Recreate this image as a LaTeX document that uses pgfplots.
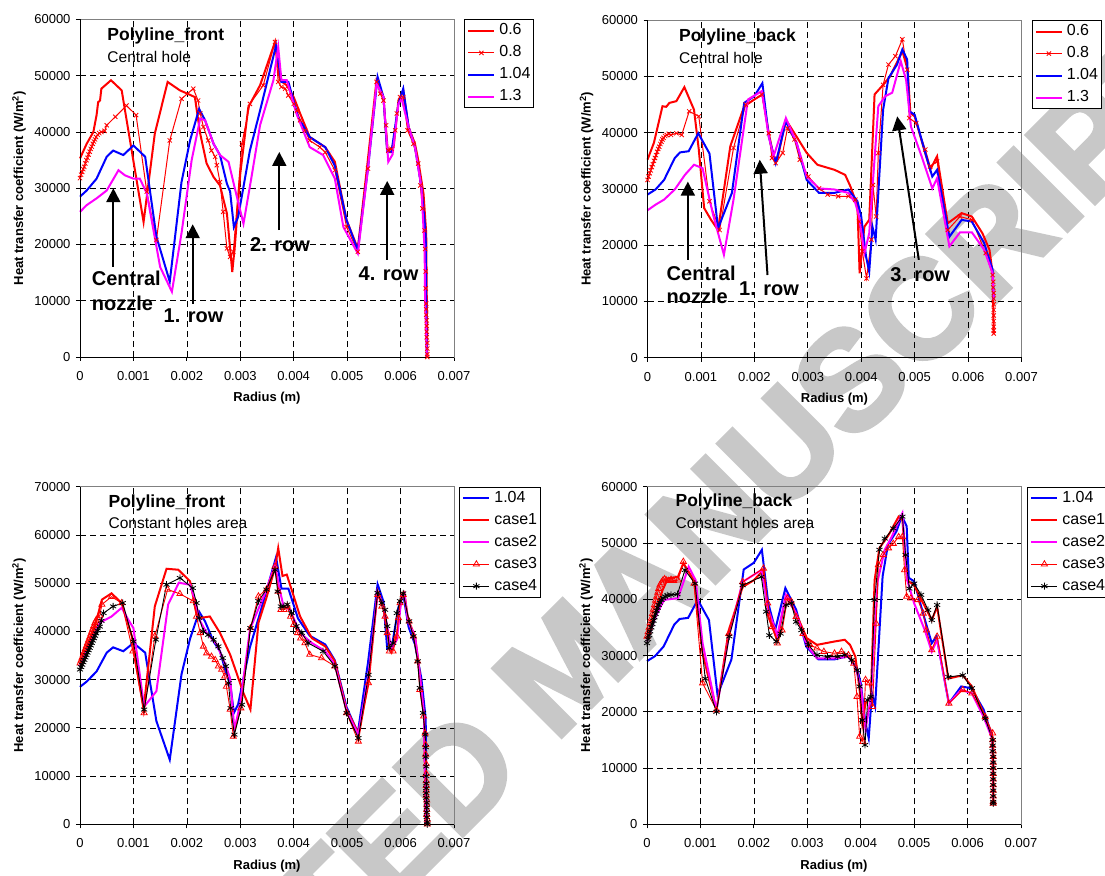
\documentclass[border=0pt]{standalone}
\usepackage{pgfplots}
\pgfplotsset{compat=1.18}
\usepackage{pgfplotstable}
\usepackage{fontspec}
\setmainfont{Liberation Sans}
\newfontfamily\wmfont{Liberation Sans}[BoldFeatures={FakeBold=3}]
\usetikzlibrary{arrows.meta}
\definecolor{frame}{RGB}{128,128,128}
\definecolor{wm}{RGB}{200,200,200}
\definecolor{cred}{RGB}{255,0,0}
\definecolor{cblue}{RGB}{0,0,255}
\definecolor{cmag}{RGB}{255,0,255}

\pgfplotstableread{
x y
0 28500
0.000125 29600
0.00031 31700
0.0005 35600
0.00062 36700
0.00081 35900
0.001 37600
0.00122 35600
0.00143 21400
0.00168 13400
0.0019 31100
0.00206 38500
0.00223 44100
0.00234 42100
0.0025 37900
0.00262 35900
0.00275 30800
0.00281 29400
0.00288 23100
0.00296 24900
0.00318 36700
0.00337 43800
0.00367 55400
0.00377 48900
0.0039 48900
0.00408 42700
0.0043 39100
0.00459 37300
0.00477 34000
0.00499 24300
0.0052 19000
0.00539 33500
0.00557 49800
0.00568 46200
0.00575 36400
0.00583 36400
0.00596 45000
0.00605 47700
0.00615 40900
0.00627 37300
0.00639 30200
0.00647 22000
0.00649 0
}\tabfront

\pgfplotstableread{
x y
0 29000
0.00015 29900
0.00031 31600
0.00051 35500
0.00061 36500
0.00077 36700
0.00095 39900
0.00116 36300
0.00132 23000
0.00158 29300
0.00181 45300
0.002 46500
0.00215 48800
0.00227 39300
0.0024 34600
0.00259 42000
0.00279 38200
0.00298 31600
0.00321 29300
0.0035 29300
0.00376 29900
0.00393 27800
0.004 25100
0.00409 18000
0.00415 15300
0.00421 23300
0.00427 21000
0.00441 44100
0.00451 49700
0.00467 52100
0.00477 54800
0.00486 53000
0.0049 43800
0.005 43200
0.0052 36400
0.00533 32200
0.00542 33400
0.00565 21500
0.00588 24500
0.00607 24200
0.0063 20400
0.00646 15600
0.00648 10300
}\tabback

\tikzset{
  ttl/.style={anchor=west, font=\bfseries\fontsize{17.5}{20}\selectfont},
  sttl/.style={anchor=west, font=\fontsize{15.5}{18}\selectfont},
  ann/.style={anchor=west, font=\bfseries\fontsize{20}{22}\selectfont},
  arr/.style={line width=2pt, -{Triangle[length=14pt, width=14pt]}},
}

\pgfplotsset{
  panel/.style={
    scale only axis, width=374pt, height=337.5pt,
    xmin=0, xmax=0.007, ymin=0,
    scaled x ticks=false, scaled y ticks=false,
    xtick={0,0.001,0.002,0.003,0.004,0.005,0.006,0.007},
    xticklabels={0,0.001,0.002,0.003,0.004,0.005,0.006,0.007},
    axis line style={draw=frame, line width=0.8pt},
    tick align=outside, xtick pos=left, ytick pos=left,
    major tick length=4pt, tick style={black, line width=0.8pt},
    grid=major, grid style={black, line width=0.7pt, dash pattern=on 6pt off 4pt},
    tick label style={font=\fontsize{13}{15}\selectfont},
    xticklabel style={yshift=-7pt},
    yticklabel style={xshift=-2pt},
    label style={font=\bfseries\fontsize{13}{15}\selectfont},
    xlabel={Radius (m)},
    ylabel={Heat transfer coefficient (W/m\textsuperscript{2})},
    x label style={at={(axis description cs:0.5,-0.123)}, anchor=center},
    y label style={at={(axis description cs:-0.163,0.5)}, anchor=center},
    clip=false,
    legend cell align=left,
    legend style={at={(1,1)}, anchor=north west, xshift=10pt, draw=black, line width=0.8pt,
      font=\fontsize{16}{18}\selectfont, inner xsep=3pt, inner ysep=3pt,
      row sep=6pt, column sep=4pt,
      nodes={inner sep=0pt, text height=12pt, text depth=4pt, anchor=west}},
    legend image code/.code={\draw[mark repeat=2,mark phase=2,#1] plot coordinates {(0pt,0pt) (13pt,0pt) (26pt,0pt)};},
  },
  thickred/.style={draw=cred, line width=2pt, mark=none},
  thickblue/.style={draw=cblue, line width=2pt, mark=none},
  thickmag/.style={draw=cmag, line width=2pt, mark=none},
  xred/.style={draw=cred, line width=1pt, mark=x, mark size=3pt, mark options={line width=0.8pt}},
  trired/.style={draw=cred, line width=0.9pt, mark=triangle, mark size=3.5pt, mark options={line width=0.8pt}},
  astblack/.style={draw=black, line width=0.9pt, mark=asterisk, mark size=3.5pt, mark options={line width=0.8pt}},
}

\begin{document}
\begin{tikzpicture}
\useasboundingbox (0,0) rectangle (1105pt,875pt);
\node[rotate=45, text=wm, font=\wmfont\bfseries\fontsize{140}{145}\selectfont] at (565pt,210pt) {ACCEPTED MANUSCRIPT};

% ---------------- Panel 1 ----------------
\begin{axis}[panel, at={(80pt,518pt)}, anchor=south west,
  ymax=60000, ytick={0,10000,20000,30000,40000,50000,60000},
  yticklabels={0,10000,20000,30000,40000,50000,60000},
  legend entries={0.6,0.8,1.04,1.3}]
\addplot[thickred] coordinates {(0,35300) (0.000125,37900) (0.00025,40000) (0.00031,43000) (0.00034,45300) (0.000375,45600) (0.0004,47700) (0.00058,49200) (0.00078,47400) (0.00119,24000) (0.0014,39700) (0.00164,48900) (0.00187,47400) (0.00206,46600) (0.00215,46200) (0.00225,39700) (0.00237,34400) (0.0025,32000) (0.00262,30500) (0.00275,25500) (0.00285,15100) (0.0029,19900) (0.003,32600) (0.00315,44400) (0.00337,48300) (0.00365,56000) (0.00374,49200) (0.00387,48300) (0.004,46200) (0.00412,43300) (0.0043,39100) (0.00459,37300) (0.00477,34700) (0.00499,24300) (0.0052,19300) (0.00537,33500) (0.00555,49200) (0.00568,46200) (0.00575,36700) (0.00587,37300) (0.00596,45600) (0.00605,47400) (0.00615,40900) (0.00627,37900) (0.00633,35000) (0.00643,29000) (0.00648,22000) (0.0065,0)};
\addplot[xred] coordinates {(0,31800) (0.00002,32400) (0.00004,32900) (0.00006,33400) (0.00008,33800) (0.0001,34400) (0.00012,35000) (0.00014,35400) (0.00016,36000) (0.00018,36500) (0.0002,37000) (0.00022,37400) (0.00024,37900) (0.00026,38300) (0.00028,38700) (0.0003,39100) (0.00033,39500) (0.00036,39800) (0.0004,40000) (0.00046,40200) (0.0005,41200) (0.00066,42700) (0.00087,44700) (0.00105,43000) (0.00125,29400) (0.00143,20800) (0.00168,38500) (0.0019,45900) (0.00212,47700) (0.00221,45600) (0.00225,43300) (0.00231,40900) (0.0024,38500) (0.00246,36700) (0.00253,35600) (0.00256,34100) (0.00262,31100) (0.00268,25800) (0.00275,19300) (0.00281,17800) (0.00287,18700) (0.00303,37900) (0.00318,45000) (0.00343,48300) (0.00365,56000) (0.00371,48900) (0.00377,48000) (0.00384,47700) (0.0039,46500) (0.004,45000) (0.00406,43800) (0.00412,42100) (0.00421,40300) (0.0043,38500) (0.00449,37300) (0.00459,36400) (0.00477,33200) (0.00499,23100) (0.0052,18700) (0.00539,33500) (0.00555,48900) (0.00562,46800) (0.00568,45600) (0.00573,41200) (0.00577,36700) (0.00583,37000) (0.0059,40300) (0.00593,43300) (0.00599,46200) (0.00605,46200) (0.00613,40300) (0.00624,37900) (0.00633,34400) (0.00637,30500) (0.00641,26400) (0.00645,22500) (0.00646,19200) (0.00647,15200) (0.00647,12200) (0.00648,9500) (0.00648,8500) (0.00648,7500) (0.00649,6500) (0.00649,5500) (0.00649,4500) (0.00649,3500) (0.0065,2500) (0.0065,1500) (0.0065,500) (0.0065,0)};
\addplot[thickblue] table {\tabfront};
\addplot[thickmag] coordinates {(0,25800) (0.000125,27000) (0.00031,28200) (0.0005,29600) (0.00072,33200) (0.00084,32300) (0.001,31700) (0.00112,31700) (0.00125,29100) (0.0015,16000) (0.00172,11600) (0.0019,22000) (0.00209,35000) (0.00225,42400) (0.00234,42100) (0.0025,37900) (0.00262,35900) (0.00278,34700) (0.0029,29900) (0.00306,23700) (0.00321,32000) (0.00337,41200) (0.00362,49200) (0.00371,55100) (0.00377,49200) (0.00387,49200) (0.00405,43300) (0.0043,37300) (0.00455,35900) (0.00477,31700) (0.00493,23100) (0.0052,18400) (0.00539,33500) (0.00555,48600) (0.00568,46200) (0.00577,34700) (0.00585,36000) (0.00596,45000) (0.00602,45900) (0.00615,40900) (0.00627,37300) (0.00639,30200) (0.00645,19000) (0.00646,10100) (0.00649,0)};
\draw[black, line width=0.8pt] (rel axis cs:0,1) -- (rel axis cs:0,0) -- (rel axis cs:1,0);
\node[ttl] at (rel axis cs:0.064,0.95) {Polyline\_front};
\node[sttl] at (rel axis cs:0.064,0.89) {Central hole};
\draw[arr] (axis cs:0.000624,16000) -- (axis cs:0.000624,30000);
\node[ann] at (axis cs:0.000156,13960) {Central};
\node[ann] at (axis cs:0.000156,9500) {nozzle};
\draw[arr] (axis cs:0.00211,9500) -- (axis cs:0.00211,23600);
\node[ann] at (axis cs:0.0015,7280) {1. row};
\draw[arr] (axis cs:0.00373,22540) -- (axis cs:0.00373,36450);
\node[ann] at (axis cs:0.00312,19900) {2. row};
\draw[arr] (axis cs:0.00575,17300) -- (axis cs:0.00575,31300);
\node[ann] at (axis cs:0.00515,14850) {4. row};
\end{axis}

% ---------------- Panel 2 ----------------
\begin{axis}[panel, at={(647.5pt,517.3pt)}, anchor=south west,
  ymax=60000, ytick={0,10000,20000,30000,40000,50000,60000},
  yticklabels={0,10000,20000,30000,40000,50000,60000},
  legend entries={0.6,0.8,1.04,1.3}]
\addplot[thickred] coordinates {(0,35200) (0.00012,38200) (0.00028,44700) (0.00035,44600) (0.00041,45300) (0.00054,45600) (0.00069,48100) (0.00087,44100) (0.00096,37000) (0.00106,26600) (0.00119,24500) (0.00132,22700) (0.00155,37600) (0.00181,44700) (0.002,45900) (0.00215,46800) (0.00227,39900) (0.00236,35800) (0.00243,35200) (0.00259,42300) (0.00279,39300) (0.00298,36400) (0.00318,34300) (0.0035,33400) (0.0037,32500) (0.0038,30400) (0.00393,26900) (0.00397,15000) (0.00406,23300) (0.00415,24500) (0.00425,46800) (0.00441,48500) (0.00454,50000) (0.00471,53300) (0.00477,54500) (0.00487,51200) (0.00492,43500) (0.005,42900) (0.00516,37600) (0.00529,33400) (0.00542,35800) (0.00562,23900) (0.00588,25700) (0.00607,25100) (0.00627,22100) (0.0064,19200) (0.00646,15000) (0.00648,4300)};
\addplot[xred] coordinates {(0,31600) (0.00002,32200) (0.00004,32800) (0.00006,33300) (0.00008,33900) (0.0001,34400) (0.00012,35000) (0.00014,35500) (0.00016,36000) (0.00018,36600) (0.0002,37100) (0.00022,37500) (0.00024,38000) (0.00026,38400) (0.00028,38800) (0.0003,39100) (0.00033,39400) (0.00036,39600) (0.0004,39800) (0.00044,39600) (0.00054,39900) (0.00064,39600) (0.00078,43800) (0.00096,42900) (0.00116,27800) (0.00135,22700) (0.00161,37300) (0.00184,45000) (0.00214,46800) (0.00227,39900) (0.00233,35500) (0.0024,34600) (0.00253,36400) (0.00262,40800) (0.00275,38800) (0.00285,35200) (0.00301,32200) (0.00321,30100) (0.00337,29000) (0.00357,28700) (0.00376,28700) (0.00389,28100) (0.00396,24200) (0.00402,18900) (0.0041,14100) (0.00419,21000) (0.00422,30700) (0.00428,25100) (0.00432,36400) (0.00441,48500) (0.00451,52100) (0.00464,53600) (0.00477,56600) (0.00486,51200) (0.0049,42600) (0.00503,41700) (0.0052,37000) (0.00529,34000) (0.00542,34900) (0.00562,22700) (0.00585,25100) (0.00607,24500) (0.00633,18600) (0.00646,14700) (0.00647,13500) (0.00647,12500) (0.00648,11500) (0.00648,10500) (0.00648,9500) (0.00648,8500) (0.00648,7500) (0.00648,6500) (0.00648,5500) (0.00648,4800) (0.00648,4300)};
\addplot[thickblue] table {\tabback};
\addplot[thickmag] coordinates {(0,26200) (0.00015,27200) (0.00031,28100) (0.00051,29900) (0.0007,32500) (0.00087,34300) (0.00103,33700) (0.00122,25700) (0.00143,18300) (0.00161,28100) (0.00188,45900) (0.00214,47400) (0.00227,39300) (0.00236,35800) (0.00259,42600) (0.00279,38200) (0.00298,32200) (0.00321,30100) (0.0035,29900) (0.00376,29300) (0.00389,27500) (0.00396,25100) (0.00406,18600) (0.00415,22100) (0.00432,44700) (0.00445,46500) (0.00458,47100) (0.00474,52700) (0.00484,49400) (0.00493,41100) (0.00513,35800) (0.00533,30100) (0.00542,31900) (0.00565,19800) (0.00585,22300) (0.00607,22300) (0.0063,19200) (0.00646,15000) (0.00648,10300)};
\draw[black, line width=0.8pt] (rel axis cs:0,1) -- (rel axis cs:0,0) -- (rel axis cs:1,0);
\node[ttl] at (rel axis cs:0.075,0.949) {Polyline\_back};
\node[sttl] at (rel axis cs:0.075,0.889) {Central hole};
\draw[arr] (axis cs:0.000755,17400) -- (axis cs:0.000755,31300);
\node[ann] at (axis cs:0.000293,15000) {Central};
\node[ann] at (axis cs:0.000293,10860) {nozzle};
\draw[arr] (axis cs:0.002246,14700) -- (axis cs:0.0021,35200);
\node[ann] at (axis cs:0.00165,12340) {1. row};
\draw[arr] (axis cs:0.005078,17400) -- (axis cs:0.004674,42900);
\node[ann] at (axis cs:0.00448,14700) {3. row};
\end{axis}

% ---------------- Panel 3 ----------------
\begin{axis}[panel, at={(80pt,50.7pt)}, anchor=south west,
  ymax=70000, ytick={0,10000,20000,30000,40000,50000,60000,70000},
  yticklabels={0,10000,20000,30000,40000,50000,60000,70000},
  legend style={xshift=-5pt},
  legend entries={1.04,case1,case2,case3,case4}]
\addplot[thickblue] table {\tabfront};
\addplot[thickred] coordinates {(0,33100) (0.000125,36200) (0.00028,41100) (0.00041,46600) (0.00059,47900) (0.00078,45900) (0.00097,39000) (0.00119,23800) (0.0014,45200) (0.00162,53000) (0.00184,52800) (0.00206,50400) (0.00218,43800) (0.00225,42800) (0.00243,43100) (0.00262,39700) (0.00281,35200) (0.00293,31400) (0.00306,27200) (0.00319,23800) (0.00334,41800) (0.00349,47000) (0.00365,53200) (0.00371,57300) (0.00379,51500) (0.00387,51800) (0.004,47300) (0.00412,43100) (0.00434,38600) (0.00459,36900) (0.00477,33800) (0.00499,23800) (0.00521,18900) (0.0054,29300) (0.00557,48300) (0.00568,45200) (0.00575,39700) (0.00583,35900) (0.00593,39300) (0.00602,47600) (0.00607,48100) (0.00614,42500) (0.00627,39000) (0.00633,34100) (0.00639,27900) (0.00644,22400) (0.00647,0)};
\addplot[thickmag] coordinates {(0,32800) (0.00019,37600) (0.00037,41800) (0.00059,43100) (0.00078,44900) (0.0009,42500) (0.001,40700) (0.0012,24400) (0.00143,27600) (0.00165,45600) (0.00185,50100) (0.00206,49700) (0.00215,46600) (0.00225,42100) (0.00237,39700) (0.00256,37300) (0.00271,33400) (0.00281,30300) (0.00289,19600) (0.003,25100) (0.00318,40400) (0.00349,48700) (0.00365,53900) (0.00373,49000) (0.00381,45200) (0.00393,44500) (0.00412,39700) (0.00434,37600) (0.00459,35900) (0.00477,33100) (0.00499,23400) (0.00521,18600) (0.0054,31000) (0.00557,48000) (0.00568,45200) (0.00575,41100) (0.00583,36200) (0.00593,38300) (0.00602,47300) (0.00607,47900) (0.00614,42100) (0.00627,39000) (0.00633,33800) (0.00639,27900) (0.00644,22400) (0.00647,0)};
\addplot[trired] coordinates {(0,33400) (0.00002,34000) (0.00004,34600) (0.00006,35200) (0.00008,35800) (0.0001,36400) (0.00012,37000) (0.00014,37600) (0.00016,38200) (0.00018,38800) (0.0002,39400) (0.00022,40000) (0.00024,40600) (0.00026,41200) (0.00028,41800) (0.0003,42300) (0.00033,42800) (0.00037,43300) (0.00041,45600) (0.00059,47200) (0.00078,45900) (0.00099,35900) (0.0012,23100) (0.0014,39000) (0.00164,48700) (0.00187,47800) (0.00212,46300) (0.00218,43100) (0.00225,39700) (0.00231,36900) (0.00237,35500) (0.00246,34800) (0.00253,34100) (0.00259,32800) (0.00265,32100) (0.00271,30700) (0.00274,28600) (0.00281,23800) (0.00287,18200) (0.00301,24100) (0.00319,40700) (0.00334,47300) (0.00349,48700) (0.00365,53500) (0.00371,48300) (0.00376,44500) (0.00382,44500) (0.00388,45200) (0.00394,43100) (0.004,41400) (0.00407,39700) (0.00413,38600) (0.00421,37600) (0.0043,35200) (0.00452,34500) (0.00477,32800) (0.00499,23100) (0.00521,17200) (0.0054,29300) (0.00557,47600) (0.00565,45200) (0.00571,43100) (0.00575,39700) (0.00579,35900) (0.00586,35900) (0.00593,39000) (0.00596,42800) (0.00599,45900) (0.00605,47600) (0.00616,42100) (0.00624,39000) (0.00632,33800) (0.00636,27900) (0.00643,22400) (0.00646,18900) (0.00647,16500) (0.00647,14500) (0.00648,12500) (0.00648,10500) (0.00648,9000) (0.00648,8000) (0.00648,7000) (0.00648,6000) (0.00649,5000) (0.00649,4000) (0.00649,3000) (0.00649,2000) (0.0065,1000) (0.0065,0)};
\addplot[astblack] coordinates {(0,32100) (0.00002,32600) (0.00004,33100) (0.00006,33600) (0.00008,34100) (0.0001,34600) (0.00012,35100) (0.00014,35600) (0.00016,36100) (0.00018,36600) (0.0002,37100) (0.00022,37600) (0.00024,38100) (0.00026,38600) (0.00028,39100) (0.0003,39600) (0.00033,40200) (0.00037,41000) (0.0004,42200) (0.00044,43800) (0.00062,45200) (0.0008,45900) (0.001,37900) (0.0012,23800) (0.00142,38300) (0.00162,49700) (0.00187,51100) (0.00211,49000) (0.00218,45900) (0.00223,42800) (0.00231,40000) (0.0024,39300) (0.0025,38300) (0.00259,36900) (0.00267,34500) (0.00273,32800) (0.00278,29300) (0.00282,24100) (0.00289,18600) (0.00303,24800) (0.00319,40700) (0.00334,46300) (0.00349,48700) (0.00365,52800) (0.0037,48300) (0.00376,45200) (0.00382,45200) (0.00388,45600) (0.00396,43800) (0.00405,41100) (0.00415,39700) (0.00427,37600) (0.00455,35900) (0.00477,32800) (0.00499,23100) (0.00521,17900) (0.0054,31000) (0.00557,48000) (0.00565,45900) (0.00571,44500) (0.00575,41100) (0.00579,36600) (0.00586,37600) (0.00593,43800) (0.00599,46300) (0.00605,47900) (0.00616,42100) (0.00624,39000) (0.00632,33800) (0.00636,28300) (0.00642,23100) (0.00646,18600) (0.00647,16000) (0.00647,14000) (0.00648,12000) (0.00648,10000) (0.00648,8500) (0.00648,7500) (0.00648,6500) (0.00648,5500) (0.00649,4500) (0.00649,3500) (0.00649,2500) (0.00649,1500) (0.0065,500) (0.0065,0)};
\draw[black, line width=0.8pt] (rel axis cs:0,1) -- (rel axis cs:0,0) -- (rel axis cs:1,0);
\node[ttl] at (rel axis cs:0.067,0.953) {Polyline\_front};
\node[sttl] at (rel axis cs:0.067,0.894) {Constant holes area};
\end{axis}

% ---------------- Panel 4 ----------------
\begin{axis}[panel, at={(647pt,50.7pt)}, anchor=south west,
  ymax=60000, ytick={0,10000,20000,30000,40000,50000,60000},
  yticklabels={0,10000,20000,30000,40000,50000,60000},
  legend style={xshift=-4pt},
  legend entries={1.04,case1,case2,case3,case4}]
\addplot[thickblue] table {\tabback};
\addplot[thickred] coordinates {(0,33100) (0.00013,36900) (0.00029,41600) (0.00039,43700) (0.00058,44000) (0.00068,46400) (0.00088,43400) (0.00104,30400) (0.0013,20300) (0.00153,34500) (0.00179,42200) (0.002,43400) (0.00218,45200) (0.00227,36900) (0.00244,32800) (0.0026,40500) (0.00279,37500) (0.00299,33100) (0.00318,31900) (0.00351,32500) (0.0037,32800) (0.0038,31900) (0.0039,29800) (0.00398,23900) (0.00403,17900) (0.00409,21500) (0.00419,22700) (0.00426,43400) (0.00435,49100) (0.00452,51400) (0.00471,54700) (0.00478,54100) (0.00487,43400) (0.005,42500) (0.00517,39300) (0.00533,36300) (0.00543,38700) (0.00564,25900) (0.00591,26500) (0.00608,24500) (0.0063,19700) (0.00647,15000) (0.00648,3700)};
\addplot[thickmag] coordinates {(0,32500) (0.00016,36900) (0.00032,39900) (0.00058,40200) (0.00078,45800) (0.00091,43400) (0.00104,32200) (0.0013,20300) (0.00153,33400) (0.00179,43100) (0.00214,45200) (0.00227,38100) (0.00244,33600) (0.0026,40800) (0.00279,37500) (0.00299,31900) (0.00318,29500) (0.00351,29500) (0.00377,29800) (0.0039,28000) (0.004,24500) (0.00409,16800) (0.00419,22700) (0.00432,43400) (0.00445,48800) (0.00458,51100) (0.00478,55300) (0.00487,43400) (0.005,39300) (0.0052,34500) (0.00533,30700) (0.00543,32800) (0.00565,21500) (0.00588,23900) (0.00608,23300) (0.0063,19100) (0.00647,15000) (0.00648,3700)};
\addplot[trired] coordinates {(0,33400) (0.00002,34200) (0.00004,35000) (0.00006,35800) (0.00008,36600) (0.0001,37400) (0.00012,38200) (0.00014,39000) (0.00016,39800) (0.00018,40500) (0.0002,41200) (0.00022,41900) (0.00024,42500) (0.00027,43000) (0.0003,43400) (0.00033,43600) (0.00036,43400) (0.0004,43300) (0.00045,43500) (0.0005,43300) (0.00058,43400) (0.00068,46700) (0.00088,42800) (0.00104,25100) (0.0013,20300) (0.00153,33900) (0.00179,43100) (0.00218,45500) (0.00226,39300) (0.00234,35100) (0.00244,32200) (0.00253,34500) (0.00263,40200) (0.0027,39600) (0.00279,36900) (0.00292,33900) (0.00305,31900) (0.00318,31300) (0.00331,30700) (0.00351,30400) (0.00364,30700) (0.00377,30100) (0.00387,28600) (0.00393,22700) (0.00398,15600) (0.00404,14700) (0.00409,25700) (0.00416,25100) (0.00422,20900) (0.00429,35700) (0.00433,46100) (0.00442,47900) (0.00452,49100) (0.00461,49900) (0.00471,51100) (0.00478,51100) (0.00482,45200) (0.00486,40500) (0.00494,40200) (0.00507,39900) (0.00517,37500) (0.00523,34500) (0.00533,31000) (0.00543,33400) (0.00565,21500) (0.00591,23900) (0.00608,23300) (0.00633,19100) (0.00647,16200) (0.00647,15000) (0.00647,14000) (0.00648,13000) (0.00648,12000) (0.00648,11000) (0.00648,10000) (0.00648,9000) (0.00648,8000) (0.00648,7000) (0.00648,6000) (0.00648,5000) (0.00648,4000) (0.00648,3700)};
\addplot[astblack] coordinates {(0,32200) (0.00002,32900) (0.00004,33600) (0.00006,34300) (0.00008,35000) (0.0001,35600) (0.00012,36200) (0.00014,36800) (0.00016,37400) (0.00018,38000) (0.0002,38500) (0.00022,39000) (0.00024,39400) (0.00027,39900) (0.0003,40200) (0.00034,40500) (0.00038,40700) (0.00045,40800) (0.00057,40900) (0.00071,45200) (0.0009,42800) (0.00109,25900) (0.0013,20000) (0.00154,33400) (0.00179,42500) (0.00214,44000) (0.00223,37800) (0.00229,33600) (0.00242,32500) (0.0025,33900) (0.0026,39000) (0.0027,39300) (0.00279,36000) (0.00289,34500) (0.00302,31900) (0.00318,30100) (0.00338,29800) (0.00357,29800) (0.0037,30100) (0.00383,29200) (0.00393,27400) (0.00398,24500) (0.00403,18500) (0.00408,14100) (0.00413,22100) (0.00419,22700) (0.00426,39900) (0.00435,48800) (0.00445,50800) (0.00461,52600) (0.00478,54700) (0.00484,47900) (0.00491,41900) (0.005,42800) (0.00513,40800) (0.00526,38100) (0.00533,36300) (0.00543,39000) (0.00564,26200) (0.00591,26500) (0.00608,24200) (0.00633,18800) (0.00647,15000) (0.00647,14000) (0.00647,13000) (0.00648,12000) (0.00648,11000) (0.00648,10000) (0.00648,9000) (0.00648,8000) (0.00648,7000) (0.00648,6000) (0.00648,5000) (0.00648,4000) (0.00648,3700)};
\draw[black, line width=0.8pt] (rel axis cs:0,1) -- (rel axis cs:0,0) -- (rel axis cs:1,0);
\node[ttl] at (rel axis cs:0.067,0.956) {Polyline\_back};
\node[sttl] at (rel axis cs:0.067,0.894) {Constant holes area};
\end{axis}
\end{tikzpicture}
\end{document}
